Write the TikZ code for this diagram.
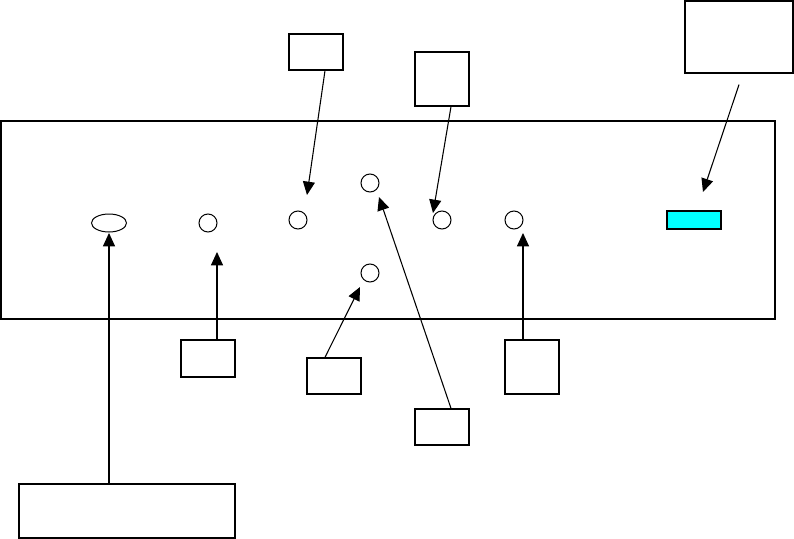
\documentclass[tikz,border=0pt]{standalone}
\usepackage{tikz}
\usetikzlibrary{shapes,arrows,positioning,calc,arrows.meta}
\definecolor{lampcyan}{RGB}{0,255,255}

\tikzset{
    box/.style={draw, line width=1pt, inner sep=0pt},
    hole/.style={draw, circle, minimum size=13.5pt, inner sep=0pt, line width=0.75pt},
    ptr/.style={-{Triangle[length=10pt,width=9pt]}, line width=0.8pt}
}

\begin{document}
\begin{tikzpicture}[x=0.75pt, y=-0.75pt]
    \useasboundingbox (0,0) rectangle (794,539);
    \draw[line width=1.5pt] (1,121) rectangle (775,319);

    \node[draw, ellipse, minimum width=26.25pt, minimum height=13.5pt, inner sep=0pt, line width=0.75pt] (jack) at (109,223) {};
    \foreach \x/\y/\name in {208/223/h1, 298/220/h2, 370/183/h3, 442/220/h4, 514/220/h5, 370/273/h6}
        \node[hole] (\name) at (\x,\y) {};
    \node[box, fill=lampcyan, minimum width=40.5pt, minimum height=13.5pt] (lamp) at (694,220) {};

    \node[box, minimum width=40.5pt, minimum height=27pt] (boxA) at (316,52) {};
    \node[box, minimum width=40.5pt, minimum height=40.5pt] (boxB) at (442,79) {};
    \node[box, minimum width=81pt, minimum height=54pt] (boxC) at (739,37) {};
    \node[box, minimum width=40.5pt, minimum height=27.75pt] (boxD) at (208,358.5) {};
    \node[box, minimum width=40.5pt, minimum height=27pt] (boxE) at (334,376) {};
    \node[box, minimum width=40.5pt, minimum height=27pt] (boxF) at (442,427) {};
    \node[box, minimum width=40.5pt, minimum height=40.5pt] (boxG) at (532,367) {};
    \node[box, minimum width=162pt, minimum height=40.5pt] (boxH) at (127,511) {};

    \coordinate (tA) at (307,195);
    \coordinate (tB) at (433,213);
    \coordinate (tC) at (703,192);
    \coordinate (tD) at (217,252);
    \coordinate (tE) at (360,287);
    \coordinate (tF) at (379,197);
    \coordinate (tG) at (523,233);
    \coordinate (tH) at (109,233);

    \draw[ptr] ([xshift=6.75pt]boxA.south) -- (tA);
    \draw[ptr] ([xshift=6.75pt]boxB.south) -- (tB);
    \draw[ptr] ([yshift=-8.25pt]boxC.south) -- (tC);
    \draw[ptr] ([xshift=6.75pt]boxD.north) -- (tD);
    \draw[ptr] ([xshift=-6.75pt]boxE.north) -- (tE);
    \draw[ptr] ([xshift=6.75pt]boxF.north) -- (tF);
    \draw[ptr] ([xshift=-6.75pt]boxG.north) -- (tG);
    \draw[ptr] ([xshift=-13.5pt]boxH.north) -- (tH);
\end{tikzpicture}
\end{document}
